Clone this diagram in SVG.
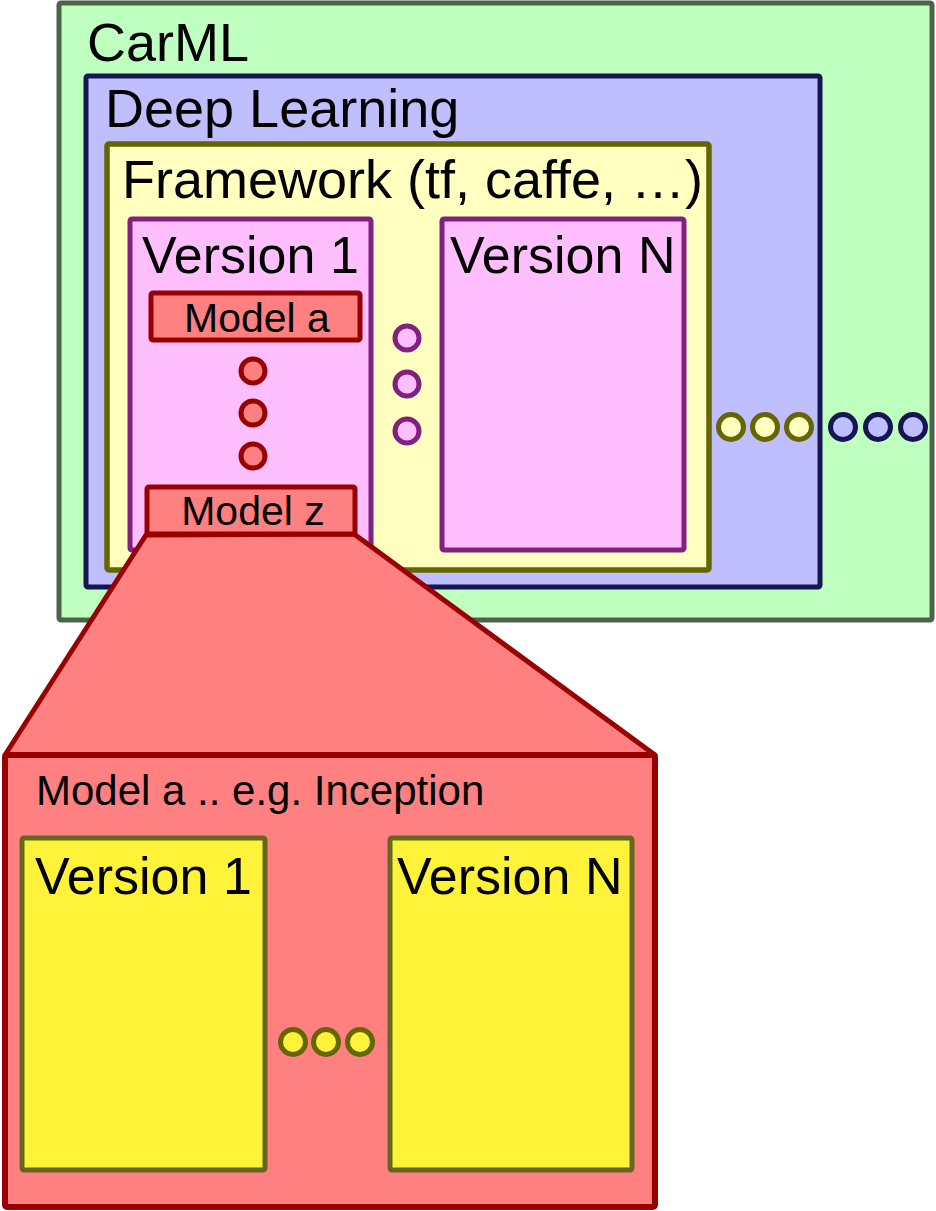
<svg xmlns="http://www.w3.org/2000/svg" width="936" height="1211" viewBox="0 0 936 1211">
<style>
text{font-family:"Liberation Sans",Arial,sans-serif;fill:#000}
.big{font-size:54px}
.ver-t{font-size:52px}
.med{font-size:41px}
.carml{fill:#BFFFBF;stroke:#4B634B;stroke-width:5}
.dl{fill:#BFBFFF;stroke:#151552;stroke-width:5}
.fw{fill:#FFFFC0;stroke:#666600;stroke-width:5.5}
.ver{fill:#FFBFFF;stroke:#80207F;stroke-width:5}
.model{fill:#FF8080;stroke:#990000;stroke-width:5}
.yv{fill:#FFF33A;stroke:#666622;stroke-width:5}
.dr{fill:#FF8080;stroke:#990000;stroke-width:5}
.dp{fill:#FFBFFF;stroke:#80207F;stroke-width:5}
.dy{fill:#FFFFC0;stroke:#666600;stroke-width:5}
.dn{fill:#BFBFFF;stroke:#151552;stroke-width:5}
.dyy{fill:#FFF33A;stroke:#666600;stroke-width:5}
</style>
<g id="carml">
<rect class="carml" x="59" y="3" width="873" height="617" rx="2"/>
<text class="big" x="87" y="61">CarML</text>
</g>
<g id="deep-learning">
<rect class="dl" x="86" y="76" width="734" height="511" rx="2"/>
<text class="big" x="105" y="127">Deep Learning</text>
</g>
<g id="framework">
<rect class="fw" x="107" y="144" width="602" height="426" rx="2"/>
<text class="big" x="122" y="198">Framework (tf, caffe, …)</text>
</g>
<g id="fw-version-1">
<rect class="ver" x="130" y="219" width="241" height="331" rx="2"/>
<text class="ver-t" x="142" y="273">Version 1</text>
</g>
<g id="fw-version-n">
<rect class="ver" x="442" y="219" width="242" height="331" rx="2"/>
<text class="ver-t" x="450" y="273">Version N</text>
</g>
<g id="model-a">
<rect class="model" x="151" y="293" width="209" height="47" rx="2"/>
<text class="med" x="257" y="332" text-anchor="middle">Model a</text>
</g>
<g id="model-dots">
<circle class="dr" cx="253" cy="371" r="12"/>
<circle class="dr" cx="253" cy="413" r="12"/>
<circle class="dr" cx="253" cy="456" r="12"/>
</g>
<g id="version-dots">
<circle class="dp" cx="407" cy="338" r="12"/>
<circle class="dp" cx="407" cy="384" r="12"/>
<circle class="dp" cx="407" cy="431" r="12"/>
</g>
<g id="framework-dots">
<circle class="dy" cx="731" cy="427" r="12.5"/>
<circle class="dy" cx="765" cy="427" r="12.5"/>
<circle class="dy" cx="799" cy="427" r="12.5"/>
</g>
<g id="dl-dots">
<circle class="dn" cx="843" cy="427" r="12.5"/>
<circle class="dn" cx="878" cy="427" r="12.5"/>
<circle class="dn" cx="913" cy="427" r="12.5"/>
</g>
<g id="connectors">
<polygon points="146,535 354,534 655,755 5,755" fill="#FF8080" stroke="#990000" stroke-width="5" stroke-linejoin="round"/>
</g>
<g id="model-z">
<rect class="model" x="147" y="487" width="208" height="47" rx="2"/>
<text class="med" x="253" y="525" text-anchor="middle">Model z</text>
</g>
<g id="model-detail">
<rect class="model" x="5" y="755" width="650" height="452" rx="2" style="stroke-width:6"/>
<text x="36" y="805" style="font-size:42px">Model a .. e.g. Inception</text>
</g>
<g id="m-version-1">
<rect class="yv" x="22" y="838" width="243" height="332" rx="2"/>
<text class="ver-t" x="35" y="894">Version 1</text>
</g>
<g id="m-version-n">
<rect class="yv" x="390" y="838" width="242" height="332" rx="2"/>
<text class="ver-t" x="397" y="894">Version N</text>
</g>
<g id="m-dots">
<circle class="dyy" cx="293" cy="1042" r="12.5"/>
<circle class="dyy" cx="326" cy="1042" r="12.5"/>
<circle class="dyy" cx="360" cy="1042" r="12.5"/>
</g>
</svg>
